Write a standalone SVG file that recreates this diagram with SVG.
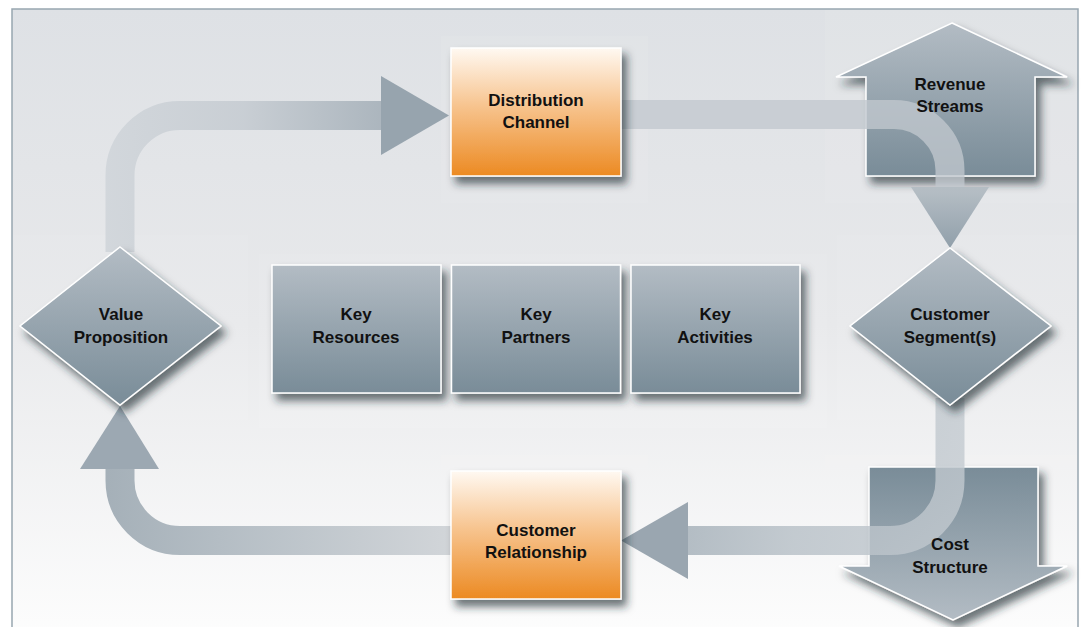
<svg xmlns="http://www.w3.org/2000/svg" width="1084" height="627" viewBox="0 0 1084 627">
  <defs>
    <linearGradient id="panelFill" x1="0" y1="0" x2="0" y2="1">
      <stop offset="0" stop-color="#dee1e5"/>
      <stop offset="0.5" stop-color="#e8e9eb"/>
      <stop offset="1" stop-color="#fdfdfd"/>
    </linearGradient>
    <linearGradient id="steel" x1="0" y1="0" x2="0" y2="1">
      <stop offset="0" stop-color="#b3bcc4"/>
      <stop offset="1" stop-color="#798c98"/>
    </linearGradient>
    <linearGradient id="steelUp" x1="0" y1="1" x2="0" y2="0">
      <stop offset="0" stop-color="#b3bcc4"/>
      <stop offset="1" stop-color="#798c98"/>
    </linearGradient>
    <linearGradient id="orange" x1="0" y1="0" x2="0" y2="1">
      <stop offset="0" stop-color="#fff9f2"/>
      <stop offset="0.45" stop-color="#f7c48f"/>
      <stop offset="1" stop-color="#ec8a22"/>
    </linearGradient>
    <linearGradient id="flowTopLeft" gradientUnits="userSpaceOnUse" x1="105" y1="0" x2="450" y2="0">
      <stop offset="0" stop-color="#d0d5da"/>
      <stop offset="0.4" stop-color="#c6ccd2"/>
      <stop offset="1" stop-color="#96a3ad"/>
    </linearGradient>
    <linearGradient id="flowBottomLeft" gradientUnits="userSpaceOnUse" x1="105" y1="0" x2="450" y2="0">
      <stop offset="0" stop-color="#9eaab3"/>
      <stop offset="0.45" stop-color="#b4bdc4"/>
      <stop offset="1" stop-color="#ced2d6"/>
    </linearGradient>
    <linearGradient id="flowBottomRight" gradientUnits="userSpaceOnUse" x1="965" y1="0" x2="621" y2="0">
      <stop offset="0" stop-color="#c3cad0"/>
      <stop offset="0.5" stop-color="#b6bfc6"/>
      <stop offset="1" stop-color="#97a4ae"/>
    </linearGradient>
    <linearGradient id="headDown" gradientUnits="userSpaceOnUse" x1="0" y1="187" x2="0" y2="248">
      <stop offset="0" stop-color="#b2bbc2"/>
      <stop offset="1" stop-color="#8797a3"/>
    </linearGradient>
    <filter id="shadow" x="-20%" y="-20%" width="150%" height="150%">
      <feDropShadow dx="5" dy="7" stdDeviation="4" flood-color="#1f2a33" flood-opacity="0.65"/>
    </filter>
  </defs>

  <style>
    .frame { fill: url(#panelFill); stroke: #98a6b0; stroke-width: 1.5; }
    .backdrop rect { fill: #ffffff; opacity: 0.07; }
    .box { fill: url(#steel); stroke: #ffffff; stroke-width: 1.5; filter: url(#shadow); }
    .hot { fill: url(#orange); stroke: #ffffff; stroke-width: 1.5; filter: url(#shadow); }
    .flow { fill: none; stroke-width: 29; }
    .label { font-family: "Liberation Sans", Arial, sans-serif; font-weight: bold; font-size: 17px; fill: #111111; text-anchor: middle; }
  </style>

  <!-- panel -->
  <rect class="frame" x="12" y="9" width="1066" height="630"/>

  <!-- soft lighter patches behind the shapes -->
  <g class="backdrop">
    <rect x="441" y="36" width="207" height="167"/>
    <rect x="825" y="10" width="252" height="193"/>
    <rect x="13" y="235" width="235" height="185"/>
    <rect x="259" y="254" width="568" height="174"/>
    <rect x="837" y="235" width="240" height="185"/>
    <rect x="441" y="455" width="207" height="165"/>
    <rect x="825" y="455" width="252" height="172"/>
  </g>

  <!-- revenue / cost block arrows (under the flow) -->
  <g id="revenue-streams">
    <polygon class="box" points="952,23 1067,77 1035,77 1035,176 866,176 866,77 836,77"/>
  </g>
  <g id="cost-structure">
    <polygon class="box" style="fill:url(#steelUp)" points="869,467 1038,467 1038,566 1067,566 953,620 839,566 869,566"/>
  </g>

  <!-- connectors -->
  <g id="connectors">
    <!-- value proposition -> distribution channel -->
    <path class="flow" stroke="url(#flowTopLeft)" opacity="0.9" d="M120 252 L120 175.5 A60 60 0 0 1 180 115.5 L382 115.5"/>
    <polygon fill="#97a4ae" points="381,76 449,115.5 381,155"/>
    <!-- distribution channel -> customer segment(s) -->
    <path class="flow" stroke="#c1c8ce" opacity="0.78" d="M621 114.5 L894 114.5 A56 56 0 0 1 950 170.5 L950 187"/>
    <polygon fill="url(#headDown)" opacity="0.9" points="911,187 989,187 950,248"/>
    <!-- customer segment(s) -> customer relationship -->
    <path class="flow" stroke="url(#flowBottomRight)" opacity="0.8" d="M950 398 L950 480.5 A60 60 0 0 1 890 540.5 L687 540.5"/>
    <polygon fill="#9aa6b0" points="688,502 688,579 621,540.5"/>
    <!-- customer relationship -> value proposition -->
    <path class="flow" stroke="url(#flowBottomLeft)" opacity="0.92" d="M451 540.5 L180 540.5 A60 60 0 0 1 120 480.5 L120 468"/>
    <polygon fill="#9ca8b2" points="80,469 159,469 120,406"/>
  </g>

  <!-- labels of the block arrows sit above the translucent flow -->
  <g id="revenue-streams-label">
    <text class="label" x="950" y="90">Revenue</text>
    <text class="label" x="950" y="112">Streams</text>
  </g>
  <g id="cost-structure-label">
    <text class="label" x="950" y="550">Cost</text>
    <text class="label" x="950" y="573">Structure</text>
  </g>

  <g id="value-proposition">
    <polygon class="box" points="120,247 221,326 120,405 20,326"/>
    <text class="label" x="121" y="320">Value</text>
    <text class="label" x="121" y="343">Proposition</text>
  </g>

  <g id="customer-segments">
    <polygon class="box" points="950,248 1051,326 950,405 850,326"/>
    <text class="label" x="950" y="320">Customer</text>
    <text class="label" x="950" y="343">Segment(s)</text>
  </g>

  <g id="distribution-channel">
    <rect class="hot" x="451" y="48" width="170" height="128"/>
    <text class="label" x="536" y="106">Distribution</text>
    <text class="label" x="536" y="128">Channel</text>
  </g>

  <g id="customer-relationship">
    <rect class="hot" x="451" y="471" width="170" height="128"/>
    <text class="label" x="536" y="536">Customer</text>
    <text class="label" x="536" y="558">Relationship</text>
  </g>

  <g id="key-resources">
    <rect class="box" x="272" y="265" width="169" height="128"/>
    <text class="label" x="356" y="320">Key</text>
    <text class="label" x="356" y="343">Resources</text>
  </g>

  <g id="key-partners">
    <rect class="box" x="451.5" y="265" width="169" height="128"/>
    <text class="label" x="536" y="320">Key</text>
    <text class="label" x="536" y="343">Partners</text>
  </g>

  <g id="key-activities">
    <rect class="box" x="631" y="265" width="169" height="128"/>
    <text class="label" x="715" y="320">Key</text>
    <text class="label" x="715" y="343">Activities</text>
  </g>
</svg>
